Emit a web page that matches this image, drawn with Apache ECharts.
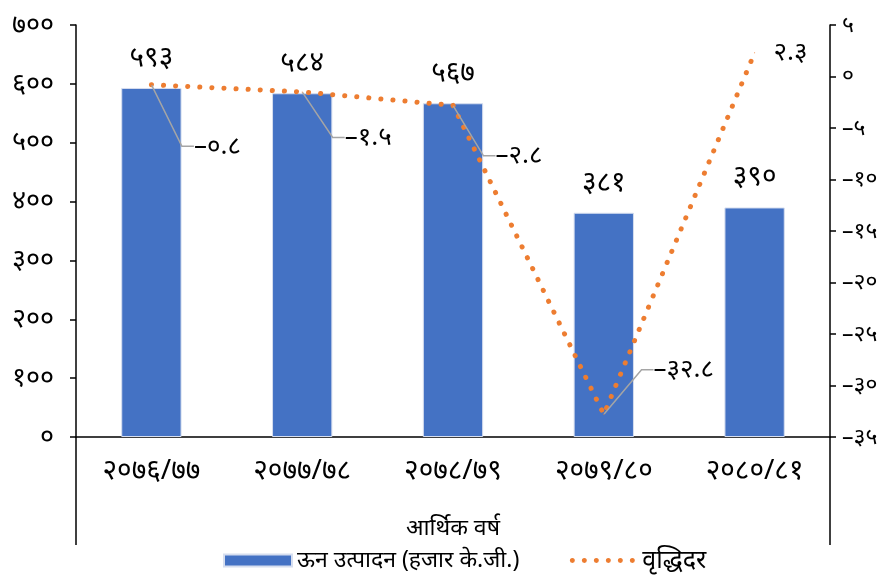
<!DOCTYPE html>
<html>
<head>
<meta charset="utf-8">
<script src="https://cdn.jsdelivr.net/npm/echarts@6/dist/echarts.min.js"></script>
<style>
  html, body { margin: 0; padding: 0; background: #fff; }
  #chart { width: 890px; height: 578px; }
</style>
</head>
<body>
<div id="chart"></div>
<script>
// data
const years = ['२०७६/७७', '२०७७/७८', '२०७८/७९', '२०७९/८०', '२०८०/८१']
const production = [593, 584, 567, 381, 390]
const growth = [-0.8, -1.5, -2.8, -32.8, 2.3]
const leftTicks = [0, 700, 100]
const rightTicks = [-35, 5, 5]

// label nudges for growth labels (px)
const growthLabelShift = [[66, 80], [66, 64], [66, 69], [80, -26], [36, 18]]
const growthLeader = [true, true, true, true, false]

const FONT = "'Noto Sans', 'Noto Sans Devanagari', 'Lohit Devanagari', sans-serif"
const DIGITS = '०१२३४५६७८९'
function toNepali(v) {
  let s = String(v).replace(/[0-9]/g, d => DIGITS[+d])
  return s.replace('-', '–')
}

// six dots, with empty corner points so the icon keeps its shape
const DOTS = 'path://M0,0L0.01,0M68,12L68.01,12' +
  [3, 15, 27, 39, 51, 63].map(x => 'M' + (x - 2.5) + ',6a2.5,2.5 0 1,0 5,0a2.5,2.5 0 1,0 -5,0').join('')

const grid = { left: 76, right: 60, top: 25, bottom: 141 }
const chart = echarts.init(document.getElementById('chart'))

chart.setOption({
  animation: false,
  textStyle: { fontFamily: FONT, color: '#000' },
  grid: grid,
  legend: {
    bottom: 0,
    left: 218,
    itemGap: 50,
    itemHeight: 12,
    itemWidth: 68,
    textStyle: { fontSize: 23, color: '#000', fontFamily: FONT },
    data: [
      { name: 'ऊन उत्पादन (हजार के.जी.)', icon: 'rect' },
      { name: 'वृद्धिदर', icon: DOTS, itemStyle: { color: '#ED7D31' }, textStyle: { fontSize: 25 } }
    ]
  },
  xAxis: {
    type: 'category',
    data: years,
    name: 'आर्थिक वर्ष',
    nameLocation: 'middle',
    nameGap: 80,
    nameTextStyle: { fontSize: 23, color: '#000' },
    axisTick: { show: false },
    axisLine: { lineStyle: { color: '#000', width: 1.5 } },
    axisLabel: { fontSize: 28, color: '#000', margin: 20 }
  },
  yAxis: [{
    type: 'value',
    min: leftTicks[0],
    max: leftTicks[1],
    interval: leftTicks[2],
    splitLine: { show: false },
    axisLine: { show: true, lineStyle: { color: '#000', width: 1.5 } },
    axisTick: { show: true, length: 6, lineStyle: { color: '#000', width: 1.5 } },
    axisLabel: { fontSize: 27, color: '#000', margin: 22, formatter: v => toNepali(v) }
  }, {
    type: 'value',
    min: rightTicks[0],
    max: rightTicks[1],
    interval: rightTicks[2],
    splitLine: { show: false },
    axisLine: { show: true, lineStyle: { color: '#000', width: 1.5 } },
    axisTick: { show: true, length: 6, lineStyle: { color: '#000', width: 1.5 } },
    axisLabel: { fontSize: 23, color: '#000', margin: 12, formatter: v => toNepali(v) }
  }],
  graphic: [
    { type: 'line', shape: { x1: grid.left, y1: 578 - grid.bottom, x2: grid.left, y2: 545 }, style: { stroke: '#000', lineWidth: 1.5 } },
    { type: 'line', shape: { x1: 890 - grid.right, y1: 578 - grid.bottom, x2: 890 - grid.right, y2: 545 }, style: { stroke: '#000', lineWidth: 1.5 } }
  ],
  series: [{
    name: 'ऊन उत्पादन (हजार के.जी.)',
    type: 'bar',
    data: production,
    barWidth: '40%',
    itemStyle: { color: '#4472C4', borderColor: '#D6DEEF', borderWidth: 1 },
    label: {
      show: true,
      position: 'top',
      distance: 16,
      fontSize: 28,
      color: '#000',
      fontFamily: FONT,
      formatter: p => toNepali(p.value)
    }
  }, {
    name: 'वृद्धिदर',
    type: 'line',
    yAxisIndex: 1,
    data: growth.map((v, i) => ({ value: v, labelLine: { show: growthLeader[i] } })),
    symbol: 'circle',
    symbolSize: 1,
    showSymbol: true,
    color: '#ED7D31',
    itemStyle: { color: '#ED7D31' },
    lineStyle: { color: '#ED7D31', width: 5, type: [0.1, 12], cap: 'round' },
    label: {
      show: true,
      fontSize: 26,
      color: '#000',
      fontFamily: FONT,
      formatter: p => toNepali(p.value)
    },
    labelLine: { show: true, length2: 12, lineStyle: { color: '#A5A5A5', width: 1.5 } },
    labelLayout: p => ({
      dx: growthLabelShift[p.dataIndex][0],
      dy: growthLabelShift[p.dataIndex][1]
    })
  }]
})
</script>
</body>
</html>
